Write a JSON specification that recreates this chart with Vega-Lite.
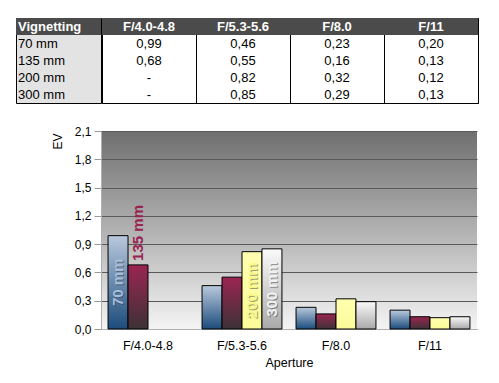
{
  "$schema": "https://vega.github.io/schema/vega-lite/v6.json",
  "background": "white",
  "padding": {"left": 15, "top": 17, "right": 5, "bottom": 5},
  "datasets": {
    "vig": [
      {"aperture": "F/4.0-4.8", "lens": "70 mm", "value": 0.99, "label": "70 mm"},
      {"aperture": "F/4.0-4.8", "lens": "135 mm", "value": 0.68, "label": "135 mm"},
      {"aperture": "F/4.0-4.8", "lens": "200 mm", "value": null},
      {"aperture": "F/4.0-4.8", "lens": "300 mm", "value": null},
      {"aperture": "F/5.3-5.6", "lens": "70 mm", "value": 0.46},
      {"aperture": "F/5.3-5.6", "lens": "135 mm", "value": 0.55},
      {"aperture": "F/5.3-5.6", "lens": "200 mm", "value": 0.82, "label": "200 mm"},
      {"aperture": "F/5.3-5.6", "lens": "300 mm", "value": 0.85, "label": "300 mm"},
      {"aperture": "F/8.0", "lens": "70 mm", "value": 0.23},
      {"aperture": "F/8.0", "lens": "135 mm", "value": 0.16},
      {"aperture": "F/8.0", "lens": "200 mm", "value": 0.32},
      {"aperture": "F/8.0", "lens": "300 mm", "value": 0.29},
      {"aperture": "F/11", "lens": "70 mm", "value": 0.20},
      {"aperture": "F/11", "lens": "135 mm", "value": 0.13},
      {"aperture": "F/11", "lens": "200 mm", "value": 0.12},
      {"aperture": "F/11", "lens": "300 mm", "value": 0.13}
    ]
  },
  "spacing": 21,
  "vconcat": [
    {
      "spacing": -1,
      "hconcat": [
        {
          "width": 85,
          "height": 85,
          "view": {"fill": "#e3e3e3", "stroke": "black", "strokeWidth": 1},
          "data": {"name": "vig"},
          "layer": [
            {
              "transform": [{"aggregate": [{"op": "count", "as": "n"}]}],
              "mark": {"type": "rect", "fill": "#4b4b4b"},
              "encoding": {
                "y": {"datum": "Vignetting", "type": "nominal", "scale": {"domain": ["Vignetting", "70 mm", "135 mm", "200 mm", "300 mm"], "paddingInner": 0, "paddingOuter": 0}, "axis": null}
              }
            },
            {
              "transform": [{"aggregate": [{"op": "count", "as": "n"}], "groupby": ["lens"]}],
              "mark": {"type": "text", "align": "left", "baseline": "middle", "dx": -40.5, "fontSize": 13, "color": "black"},
              "encoding": {
                "y": {"field": "lens", "type": "nominal", "scale": {"domain": ["Vignetting", "70 mm", "135 mm", "200 mm", "300 mm"], "paddingInner": 0, "paddingOuter": 0}, "axis": null},
                "text": {"field": "lens"}
              }
            },
            {
              "transform": [{"aggregate": [{"op": "count", "as": "n"}]}],
              "mark": {"type": "text", "align": "left", "baseline": "middle", "dx": -40.5, "fontSize": 13, "fontWeight": "bold", "color": "white"},
              "encoding": {
                "y": {"datum": "Vignetting", "type": "nominal", "scale": {"domain": ["Vignetting", "70 mm", "135 mm", "200 mm", "300 mm"], "paddingInner": 0, "paddingOuter": 0}, "axis": null},
                "text": {"value": "Vignetting"}
              }
            }
          ]
        },
        {
          "width": 376,
          "height": 85,
          "view": {"fill": "white", "stroke": "black", "strokeWidth": 1},
          "data": {"name": "vig"},
          "layer": [
            {
              "transform": [{"aggregate": [{"op": "count", "as": "n"}]}],
              "mark": {"type": "rect", "fill": "#4b4b4b"},
              "encoding": {
                "y": {"datum": "Vignetting", "type": "nominal", "scale": {"domain": ["Vignetting", "70 mm", "135 mm", "200 mm", "300 mm"], "paddingInner": 0, "paddingOuter": 0}, "axis": null}
              }
            },
            {
              "transform": [{"aggregate": [{"op": "count", "as": "n"}], "groupby": ["aperture"]}],
              "mark": {"type": "text", "baseline": "middle", "fontSize": 13, "fontWeight": "bold", "color": "white"},
              "encoding": {
                "x": {"field": "aperture", "type": "nominal", "sort": null, "scale": {"domain": ["F/4.0-4.8", "F/5.3-5.6", "F/8.0", "F/11"], "paddingInner": 0, "paddingOuter": 0},
                  "axis": {"grid": true, "tickBand": "extent", "gridColor": "black", "gridOpacity": 1, "gridWidth": 1, "labels": false, "ticks": false, "domain": false, "title": null, "minExtent": 0, "maxExtent": 0}},
                "y": {"datum": "Vignetting", "type": "nominal", "scale": {"domain": ["Vignetting", "70 mm", "135 mm", "200 mm", "300 mm"], "paddingInner": 0, "paddingOuter": 0}, "axis": null},
                "text": {"field": "aperture"}
              }
            },
            {
              "mark": {"type": "text", "baseline": "middle", "fontSize": 13, "color": "black"},
              "encoding": {
                "x": {"field": "aperture", "type": "nominal", "sort": null, "scale": {"domain": ["F/4.0-4.8", "F/5.3-5.6", "F/8.0", "F/11"], "paddingInner": 0, "paddingOuter": 0},
                  "axis": {"grid": true, "tickBand": "extent", "gridColor": "black", "gridOpacity": 1, "gridWidth": 1, "labels": false, "ticks": false, "domain": false, "title": null, "minExtent": 0, "maxExtent": 0}},
                "y": {"field": "lens", "type": "nominal", "scale": {"domain": ["Vignetting", "70 mm", "135 mm", "200 mm", "300 mm"], "paddingInner": 0, "paddingOuter": 0}, "axis": null},
                "text": {"condition": {"test": "datum.value === null", "value": "-"}, "field": "value", "type": "quantitative", "format": ".2f"}
              }
            }
          ]
        }
      ]
    },
    {
      "spacing": -1,
      "hconcat": [
        {
          "width": 1,
          "height": 1,
          "view": {"stroke": null},
          "data": {"name": "vig"},
          "transform": [{"aggregate": [{"op": "count", "as": "n"}]}],
          "mark": {"type": "text"},
          "encoding": {"text": {"value": ""}}
        },
        {
          "width": 376,
          "height": 198,
          "data": {"name": "vig"},
          "view": {
            "stroke": null,
            "fill": {"gradient": "linear", "x1": 0, "y1": 0, "x2": 0, "y2": 1, "stops": [{"offset": 0, "color": "#6f6f6f"}, {"offset": 1, "color": "#f4f4f4"}]}
          },
          "encoding": {
            "x": {"field": "aperture", "type": "nominal", "sort": null,
              "scale": {"domain": ["F/4.0-4.8", "F/5.3-5.6", "F/8.0", "F/11"], "paddingInner": 0.15, "paddingOuter": 0.075},
              "axis": {"title": "Aperture", "labelAngle": 0, "ticks": false, "labelPadding": 10, "labelFontSize": 12.5, "labelColor": "black", "titleFontSize": 12.5, "titleFontWeight": "normal", "titleColor": "black", "titlePadding": 5, "domainColor": "#b0b0b0", "grid": false}},
            "xOffset": {"field": "lens", "type": "nominal", "sort": null, "scale": {"domain": ["70 mm", "135 mm", "200 mm", "300 mm"], "paddingInner": 0, "paddingOuter": 0}}
          },
          "resolve": {"scale": {"y": "independent"}},
          "layer": [
            {
              "mark": {"type": "bar", "stroke": "black", "strokeWidth": 1},
              "encoding": {
                "y": {"field": "value", "type": "quantitative", "scale": {"domain": [0, 2.1], "nice": false},
                  "axis": {"values": [0, 0.3, 0.6, 0.9, 1.2, 1.5, 1.8, 2.1], "format": ".1f", "title": "EV", "titleAngle": 270, "titleX": -40, "titleY": 10, "titleAlign": "center", "titleBaseline": "alphabetic", "titleFontSize": 12, "titleFontWeight": "normal", "titleColor": "black", "minExtent": 85, "grid": true, "gridColor": "#5a5a5a", "gridWidth": 1, "tickColor": "#999999", "tickSize": 7, "labelPadding": 3, "labelFontSize": 12, "labelColor": "black", "domainColor": "#b0b0b0"}},
                "fill": {
                  "condition": [
                    {"test": "datum.lens == '70 mm'", "value": {"gradient": "linear", "x1": 0, "y1": 0, "x2": 0, "y2": 1, "stops": [{"offset": 0, "color": "#b9c9dd"}, {"offset": 1, "color": "#1c4c7c"}]}},
                    {"test": "datum.lens == '135 mm'", "value": {"gradient": "linear", "x1": 0, "y1": 0, "x2": 0, "y2": 1, "stops": [{"offset": 0, "color": "#9b2551"}, {"offset": 1, "color": "#3c3236"}]}},
                    {"test": "datum.lens == '200 mm'", "value": {"gradient": "linear", "x1": 0, "y1": 0, "x2": 0, "y2": 1, "stops": [{"offset": 0, "color": "#ffffb0"}, {"offset": 1, "color": "#fbfb98"}]}}
                  ],
                  "value": {"gradient": "linear", "x1": 0, "y1": 0, "x2": 0, "y2": 1, "stops": [{"offset": 0, "color": "#fafafa"}, {"offset": 1, "color": "#a9a9a9"}]}
                }
              }
            },
            {
              "transform": [{"filter": "datum.label != null && datum.lens != '135 mm'"}],
              "mark": {"type": "text", "angle": 270, "align": "center", "baseline": "middle", "dx": -1, "dy": 1, "fontSize": 15, "fontWeight": "bold", "color": "#303030", "opacity": 0.45},
              "encoding": {
                "y": {"field": "value", "type": "quantitative", "scale": {"domain": [0, 4.2], "nice": false}, "axis": null},
                "text": {"field": "label"}
              }
            },
            {
              "transform": [{"filter": "datum.label != null && datum.lens != '135 mm'"}],
              "mark": {"type": "text", "angle": 270, "align": "center", "baseline": "middle", "fontSize": 15, "fontWeight": "bold"},
              "encoding": {
                "y": {"field": "value", "type": "quantitative", "scale": {"domain": [0, 4.2], "nice": false}, "axis": null},
                "text": {"field": "label"},
                "color": {"condition": [{"test": "datum.lens == '70 mm'", "value": "#a6bedb"}, {"test": "datum.lens == '200 mm'", "value": "#f7f78a"}], "value": "#f2f2f2"}
              }
            },
            {
              "transform": [{"filter": "datum.label != null && datum.lens == '135 mm'"}],
              "mark": {"type": "text", "angle": 270, "align": "left", "baseline": "middle", "dx": 4, "fontSize": 15, "fontWeight": "bold", "color": "#9a2350"},
              "encoding": {
                "y": {"field": "value", "type": "quantitative", "scale": {"domain": [0, 2.1], "nice": false}, "axis": null},
                "text": {"field": "label"}
              }
            }
          ]
        }
      ]
    }
  ],
  "config": {
    "font": "Liberation Sans",
    "locale": {"number": {"decimal": ",", "thousands": ".", "grouping": [3], "currency": ["", " €"]}},
    "axis": {"labelFont": "Liberation Sans", "titleFont": "Liberation Sans"},
    "text": {"font": "Liberation Sans"}
  }
}
